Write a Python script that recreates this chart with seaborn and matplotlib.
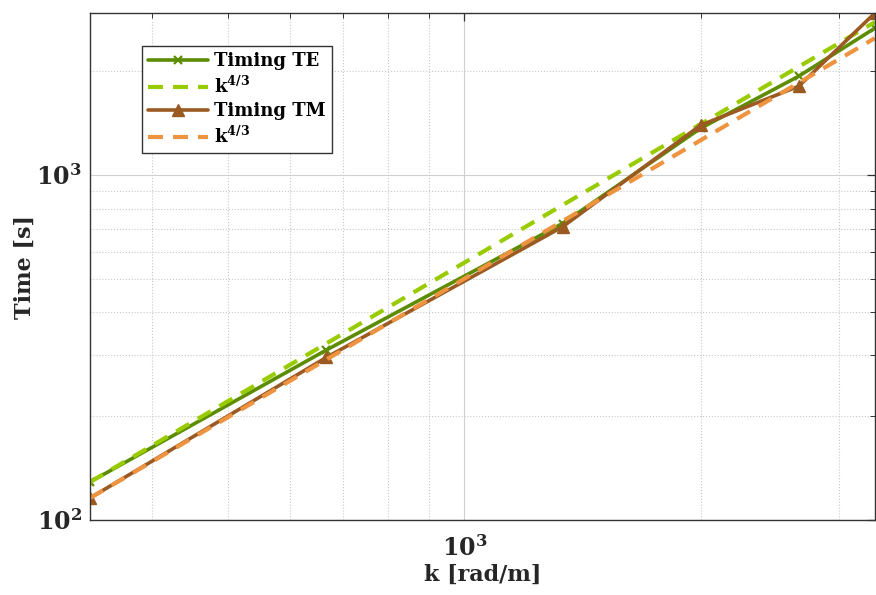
import numpy as np
import pandas as pd
import matplotlib
matplotlib.use("Agg")
import matplotlib.pyplot as plt
from matplotlib.ticker import LogLocator, FuncFormatter, NullFormatter
import seaborn as sns

# Wavenumbers and measured solve times
k_values = [333.3, 666.7, 1333.3, 2000.0, 2666.7, 3333.3]
timing_te = [128.9, 311.0, 724.0, 1368.0, 1936.0, 2668.0]
timing_tm = [115.8, 296.0, 708.0, 1396.0, 1811.0, 2950.0]
scaling_exponent = 4.0 / 3.0

series_labels = ["Timing TE", r"$\mathbf{k^{4/3}}$", "Timing TM", r"$\mathbf{k^{4/3}}$"]

k = np.array(k_values)
te = np.array(timing_te)
tm = np.array(timing_tm)
# k^(4/3) reference curves anchored at the first measurement of each mode
te_ref = te[0] * (k / k[0]) ** scaling_exponent
tm_ref = tm[0] * (k / k[0]) ** scaling_exponent

df = pd.DataFrame({"k": k, "te": te, "tm": tm, "te_ref": te_ref, "tm_ref": tm_ref})

sns.set_style("white")
plt.rcParams["font.family"] = ["DejaVu Serif"]
plt.rcParams["mathtext.fontset"] = "dejavuserif"

c_te = "#5c8c00"
c_te_ref = "#99cc00"
c_tm = "#9a5a22"
c_tm_ref = "#ee9340"
dash = (0, (3.6, 2.4))

fig = plt.figure(figsize=(8.76, 5.95), dpi=100)
ax = fig.add_axes([0.1027, 0.126, 0.896, 0.852])

sns.lineplot(data=df, x="k", y="te", ax=ax, color=c_te, linewidth=2.6,
             marker="x", markersize=6, markeredgewidth=1.6,
             markeredgecolor=c_te, label=series_labels[0])
sns.lineplot(data=df, x="k", y="te_ref", ax=ax, color=c_te_ref, linewidth=3.0,
             linestyle=dash, label=series_labels[1])
sns.lineplot(data=df, x="k", y="tm", ax=ax, color=c_tm, linewidth=2.6,
             marker="^", markersize=9, markeredgewidth=1.0,
             markeredgecolor=c_tm, label=series_labels[2])
sns.lineplot(data=df, x="k", y="tm_ref", ax=ax, color=c_tm_ref, linewidth=3.0,
             linestyle=dash, label=series_labels[3])

ax.set_xscale("log")
ax.set_yscale("log")
ax.set_xlim(k[0], k[-1])
ax.set_ylim(100, 2950)

ax.xaxis.set_major_locator(LogLocator(base=10))
ax.yaxis.set_major_locator(LogLocator(base=10))
ax.xaxis.set_minor_locator(LogLocator(base=10, subs=np.arange(2, 10)))
ax.yaxis.set_minor_locator(LogLocator(base=10, subs=np.arange(2, 10)))
fmt = FuncFormatter(lambda v, p: r"$\mathbf{10^{%d}}$" % int(round(np.log10(v))))
ax.xaxis.set_major_formatter(fmt)
ax.yaxis.set_major_formatter(fmt)
ax.xaxis.set_minor_formatter(NullFormatter())
ax.yaxis.set_minor_formatter(NullFormatter())

ax.grid(True, which="major", color="#d0d0d0", linestyle="-", linewidth=0.8)
ax.grid(True, which="minor", color="#c8c8c8", linestyle=":", linewidth=0.8)
ax.set_axisbelow(True)

ax.tick_params(which="both", direction="in", top=True, right=True,
               color="#333333", labelsize=17, labelcolor="#262626")
ax.tick_params(axis="x", which="major", pad=11)
ax.tick_params(axis="y", which="major", pad=6)
ax.tick_params(which="major", length=6, width=0.9)
ax.tick_params(which="minor", length=3.5, width=0.7)
for s in ax.spines.values():
    s.set_color("#333333")
    s.set_linewidth(1.0)

ax.set_xlabel("k [rad/m]", fontsize=16, fontweight="bold", color="#262626", labelpad=2)
ax.set_ylabel("Time [s]", fontsize=16, fontweight="bold", color="#262626", labelpad=0)

handles = ax.get_lines()[:4]
leg = ax.legend(handles=handles, labels=series_labels,
                loc="upper left", bbox_to_anchor=(0.066, 0.935),
                prop={"weight": "bold", "size": 13}, handlelength=3.3,
                handletextpad=0.35, labelspacing=0.3, borderpad=0.35,
                borderaxespad=0.0, frameon=True, fancybox=False,
                edgecolor="#333333", framealpha=1.0, labelcolor="black")
leg.get_frame().set_linewidth(1.0)

fig.savefig("out.png", dpi=100)
